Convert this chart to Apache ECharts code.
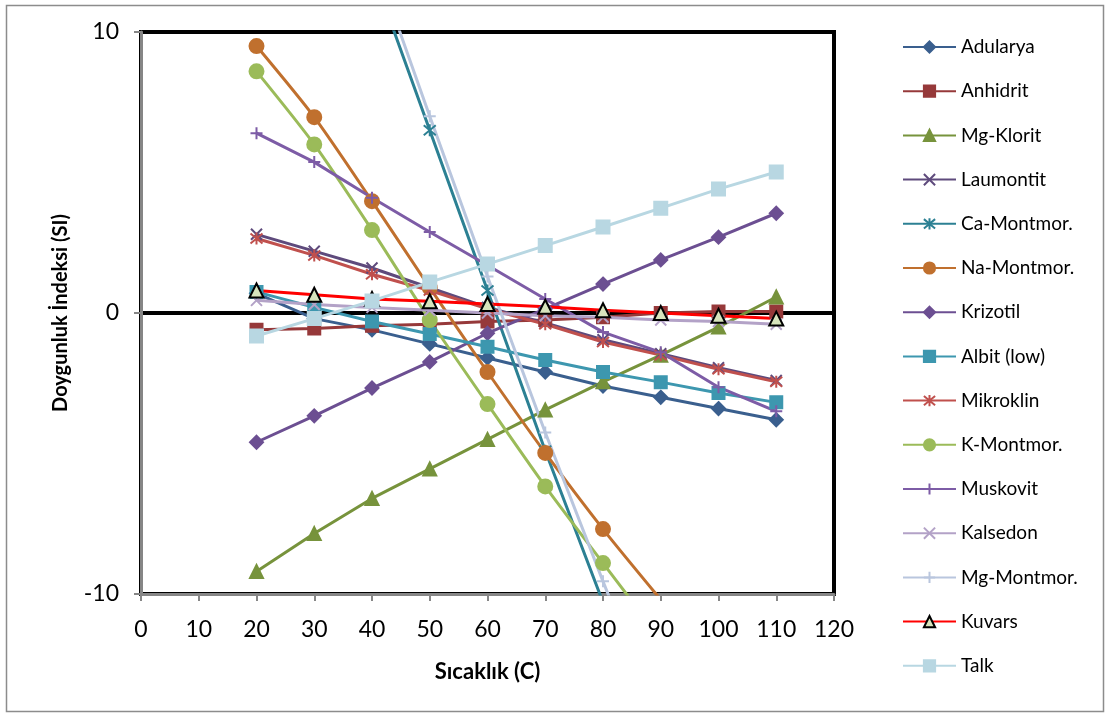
<!DOCTYPE html>
<html>
<head>
<meta charset="utf-8">
<script src="https://cdn.jsdelivr.net/npm/echarts@6/dist/echarts.min.js"></script>
<style>
  html, body { margin: 0; padding: 0; background: #fff; }
  #chart { width: 1112px; height: 718px; }
</style>
</head>
<body>
<div id="chart"></div>
<script>
// Temperature steps (°C)
const temps = [20, 30, 40, 50, 60, 70, 80, 90, 100, 110];

// Saturation index per mineral at each temperature
const adularya   = [0.7, -0.2, -0.6, -1.1, -1.6, -2.1, -2.6, -3.0, -3.4, -3.8];
const anhidrit   = [-0.6, -0.55, -0.45, -0.4, -0.3, -0.25, -0.15, 0.0, 0.05, 0.05];
const mgKlorit   = [-9.2, -7.85, -6.6, -5.55, -4.5, -3.45, -2.45, -1.5, -0.5, 0.57];
const laumontit  = [2.8, 2.2, 1.6, 0.9, 0.2, -0.35, -0.95, -1.45, -1.95, -2.4];
const caMontmor  = [null, null, 12.2, 6.5, 0.8, -4.9, -10.3, null, null, null];
const naMontmor  = [9.5, 6.97, 3.98, 0.9, -2.1, -4.98, -7.69, -10.2, null, null];
const krizotil   = [-4.6, -3.66, -2.67, -1.74, -0.72, 0.15, 1.03, 1.89, 2.7, 3.55];
const albitLow   = [0.75, 0.2, -0.3, -0.75, -1.2, -1.67, -2.1, -2.46, -2.85, -3.18];
const mikroklin  = [2.65, 2.05, 1.38, 0.8, 0.15, -0.4, -1.03, -1.5, -2.0, -2.45];
const kMontmor   = [8.6, 6.0, 2.95, -0.25, -3.24, -6.17, -8.9, -11.6, null, null];
const muskovit   = [6.4, 5.37, 4.1, 2.88, 1.7, 0.5, -0.68, -1.4, -2.64, -3.5];
const kalsedon   = [0.45, 0.3, 0.2, 0.1, 0.0, -0.1, -0.15, -0.25, -0.3, -0.4];
const mgMontmor  = [null, null, 12.8, 7.0, 1.3, -4.25, -9.55, -14.7, null, null];
const kuvars     = [0.8, 0.65, 0.5, 0.42, 0.32, 0.22, 0.1, 0.0, -0.1, -0.2];
const talk       = [-0.82, -0.2, 0.43, 1.1, 1.74, 2.4, 3.06, 3.73, 4.41, 5.02];

// Axis ticks
const xTicks = { min: 0, max: 120, interval: 10 };
const yTicks = { min: -10, max: 10, interval: 10 };

// Stroke-only marker shapes
const SYM_X    = 'path://M0,0L10,10M10,0L0,10';
const SYM_STAR = 'path://M0,0L10,10M10,0L0,10M5,-1L5,11';
const SYM_PLUS = 'path://M5,0L5,10M0,5L10,5';

const LABEL_FONT = 'Lato, "Open Sans", "DejaVu Sans", sans-serif';

function pairs(vals) {
  return temps.map((t, i) => [t, vals[i]]);
}

function lineSeries(name, vals, color, symbol, size, extra) {
  const s = {
    name: name,
    type: 'line',
    data: pairs(vals),
    symbol: symbol,
    symbolSize: size,
    showAllSymbol: true,
    clip: true,
    connectNulls: false,
    lineStyle: { color: color, width: 3 },
    itemStyle: { color: color, borderColor: color, borderWidth: 2 },
    emphasis: { disabled: true },
    animation: false
  };
  return Object.assign(s, extra || {});
}

const series = [
  lineSeries('Adularya', adularya, '#3A5F8E', 'diamond', 13),
  lineSeries('Anhidrit', anhidrit, '#96393A', 'rect', 12),
  lineSeries('Mg-Klorit', mgKlorit, '#77933C', 'triangle', 13),
  lineSeries('Laumontit', laumontit, '#5E4A7C', SYM_X, 11),
  lineSeries('Ca-Montmor.', caMontmor, '#2C8093', SYM_STAR, 12),
  lineSeries('Na-Montmor.', naMontmor, '#C0702E', 'circle', 14, { smooth: 0.25 }),
  lineSeries('Krizotil', krizotil, '#6C4F92', 'diamond', 13),
  lineSeries('Albit (low)', albitLow, '#3D97AF', 'rect', 12),
  lineSeries('Mikroklin', mikroklin, '#C0504D', SYM_STAR, 12),
  lineSeries('K-Montmor.', kMontmor, '#9BBB59', 'circle', 14, { smooth: 0.25 }),
  lineSeries('Muskovit', muskovit, '#7D5CA6', SYM_PLUS, 12),
  lineSeries('Kalsedon', kalsedon, '#B3A2C7', SYM_X, 11),
  lineSeries('Mg-Montmor.', mgMontmor, '#B9C6DE', SYM_PLUS, 12),
  lineSeries('Kuvars', kuvars, '#FF0000', 'triangle', 14, {
    itemStyle: { color: '#D7E4BD', borderColor: '#000', borderWidth: 2 }
  }),
  lineSeries('Talk', talk, '#B8D7E2', 'rect', 13)
];

const chart = echarts.init(document.getElementById('chart'), null, { renderer: 'canvas' });

chart.setOption({
  animation: false,
  backgroundColor: '#fff',
  graphic: [{
    type: 'rect',
    shape: { x: 6.5, y: 5.5, width: 1097, height: 706 },
    style: { fill: 'none', stroke: '#8C8C8C', lineWidth: 1.5 },
    silent: true,
    z: -10
  }],
  grid: {
    left: 141, right: 278, top: 32, bottom: 124,
    show: true,
    borderColor: '#000',
    borderWidth: 4,
    backgroundColor: 'transparent'
  },
  legend: {
    orient: 'vertical',
    left: 897,
    top: 32,
    itemWidth: 53,
    itemHeight: 14,
    itemGap: 24.2,
    selectedMode: false,
    textStyle: {
      fontFamily: LABEL_FONT,
      fontSize: 19,
      lineHeight: 20,
      color: '#000'
    },
    data: series.map(s => s.name)
  },
  xAxis: {
    type: 'value',
    min: xTicks.min,
    max: xTicks.max,
    interval: xTicks.interval,
    name: 'Sıcaklık (C)',
    nameLocation: 'middle',
    nameGap: 67,
    nameTextStyle: {
      fontFamily: LABEL_FONT,
      fontWeight: 'bold',
      fontSize: 22,
      color: '#000'
    },
    axisLine: { onZero: false, lineStyle: { color: '#868686', width: 3 } },
    axisTick: { show: true, inside: false, length: 7, lineStyle: { color: '#868686', width: 2 } },
    axisLabel: {
      fontFamily: LABEL_FONT,
      fontSize: 23,
      color: '#000',
      margin: 24
    },
    splitLine: { show: false }
  },
  yAxis: {
    type: 'value',
    min: yTicks.min,
    max: yTicks.max,
    interval: yTicks.interval,
    name: 'Doygunluk İndeksi (SI)',
    nameLocation: 'middle',
    nameGap: 70,
    nameRotate: 90,
    nameTextStyle: {
      fontFamily: LABEL_FONT,
      fontWeight: 'bold',
      fontSize: 20,
      color: '#000'
    },
    axisLine: { onZero: false, lineStyle: { color: '#868686', width: 3 } },
    axisTick: { show: true, inside: false, length: 7, lineStyle: { color: '#868686', width: 2 } },
    axisLabel: {
      fontFamily: LABEL_FONT,
      fontSize: 23,
      color: '#000',
      margin: 22
    },
    splitLine: { show: true, lineStyle: { color: '#000', width: 4 } }
  },
  series: series
});
</script>
</body>
</html>
